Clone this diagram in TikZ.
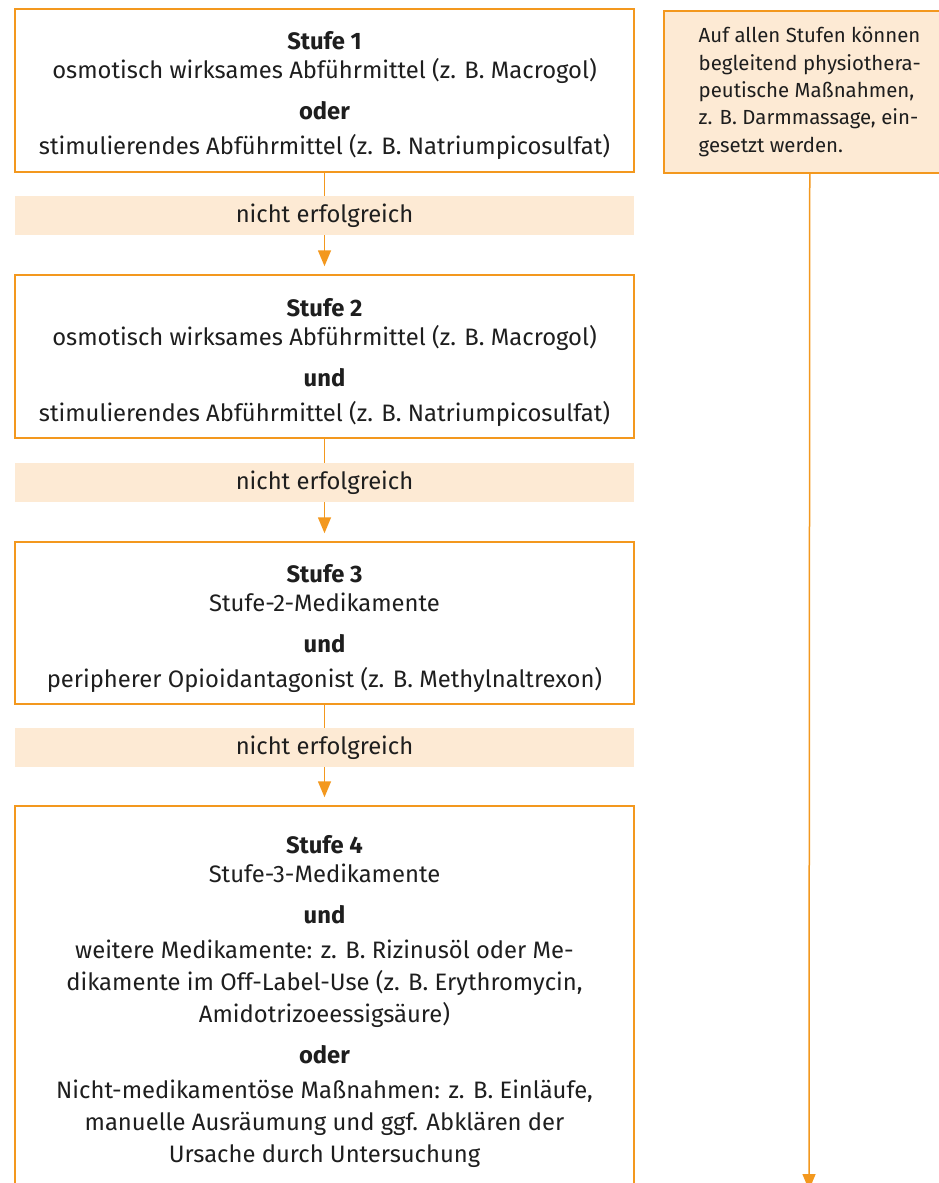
\documentclass[tikz,border=0pt]{standalone}
\usepackage{fontspec}
\setmainfont{Fira Sans}
\usetikzlibrary{arrows.meta}
\definecolor{orng}{RGB}{243,152,30}
\definecolor{peach}{RGB}{253,234,212}
\definecolor{ink}{RGB}{30,30,30}
\tikzset{
 stage/.style={draw=orng, line width=1.5pt, minimum width=619pt, inner sep=0pt},
 stagetext/.style={inner sep=0pt, align=center, text=ink, font=\fontsize{23.8}{29}\selectfont},
 band/.style={fill=peach, minimum width=619pt, minimum height=39pt, inner sep=0pt, text=ink, font=\fontsize{23.8}{29}\selectfont},
 sidebox/.style={draw=orng, fill=peach, line width=1.5pt, minimum width=292pt, minimum height=162pt, inner sep=0pt, align=left, text=ink, font=\fontsize{20.4}{27.3}\selectfont},
 conn/.style={draw=orng, line width=1.5pt},
 arr/.style={conn, -{Triangle[width=13pt,length=16pt]}, shorten >=8pt},
}
\begin{document}
\begin{tikzpicture}[x=1pt,y=-1pt]
\useasboundingbox (0,0) rectangle (939,1183);
\clip (0,0) rectangle (939,1183);
\node[stage, minimum height=163pt] (b1) at (324.5,90.5) {};
\node[stagetext] (t1) at ([yshift=-5.5pt]b1.center) {\textbf{Stufe 1}\\ osmotisch wirksames Abführmittel (z. B. Macrogol)\\[12pt] \textbf{oder}\\[6pt] stimulierendes Abführmittel (z. B. Natriumpicosulfat)};
\node[band] (n1) at (324.5,215.5) {nicht erfolgreich};
\node[stage, minimum height=163pt] (b2) at (324.5,356.5) {};
\node[stagetext] (t2) at ([yshift=-5.5pt]b2.center) {\textbf{Stufe 2}\\ osmotisch wirksames Abführmittel (z. B. Macrogol)\\[12pt] \textbf{und}\\[6pt] stimulierendes Abführmittel (z. B. Natriumpicosulfat)};
\node[band] (n2) at (324.5,482.5) {nicht erfolgreich};
\node[stage, minimum height=162pt] (b3) at (324.5,623) {};
\node[stagetext] (t3) at ([yshift=-5.5pt]b3.center) {\textbf{Stufe 3}\\ Stufe-2-Medikamente\\[12pt] \textbf{und}\\[6pt] peripherer Opioidantagonist (z. B. Methylnaltrexon)};
\node[band] (n3) at (324.5,747.5) {nicht erfolgreich};
\node[stage, minimum height=390pt] (b4) at (324.5,1001) {};
\node[stagetext] (t4) at (b4.center) {\textbf{Stufe 4}\\ Stufe-3-Medikamente\\[12pt] \textbf{und}\\[6pt] weitere Medikamente: z. B. Rizinusöl oder Me-\\[3pt] dikamente im Off-Label-Use (z. B. Erythromycin,\\[3pt] Amidotrizoeessigsäure)\\[12pt] \textbf{oder}\\[6pt] Nicht-medikamentöse Maßnahmen: z. B. Einläufe,\\[3pt] manuelle Ausräumung und ggf. Abklären der\\[3pt] Ursache durch Untersuchung};
\node[sidebox, anchor=north west] (rb) at (663,10) {Auf allen Stufen können\\ begleitend physiothera-\\ peutische Maßnahmen,\\ z. B. Darmmassage, ein-\\ gesetzt werden.};
\coordinate (rend) at (809,1190);
\draw[conn] (b1) -- (n1);
\draw[arr] (n1) -- (b2);
\draw[conn] (b2) -- (n2);
\draw[arr] (n2) -- (b3);
\draw[conn] (b3) -- (n3);
\draw[arr] (n3) -- (b4);
\draw[arr, shorten >=0pt] (rb.south) -- (rend);
\end{tikzpicture}
\end{document}
